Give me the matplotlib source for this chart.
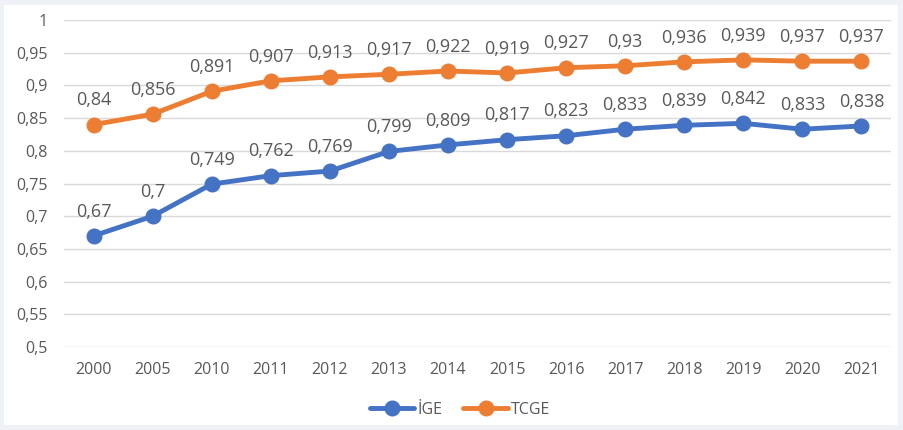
import matplotlib
matplotlib.use("Agg")
import matplotlib.pyplot as plt
from matplotlib.patches import Rectangle

years = ["2000", "2005", "2010", "2011", "2012", "2013", "2014", "2015",
         "2016", "2017", "2018", "2019", "2020", "2021"]
ige = [0.67, 0.7, 0.749, 0.762, 0.769, 0.799, 0.809, 0.817, 0.823, 0.833, 0.839, 0.842, 0.833, 0.838]
tcge = [0.84, 0.856, 0.891, 0.907, 0.913, 0.917, 0.922, 0.919, 0.927, 0.93, 0.936, 0.939, 0.937, 0.937]
series_names = ["İGE", "TCGE"]
colors = ["#4472C4", "#ED7D31"]
yticks = [0.5, 0.55, 0.6, 0.65, 0.7, 0.75, 0.8, 0.85, 0.9, 0.95, 1.0]

plt.rcParams['font.family'] = ['Open Sans', 'DejaVu Sans']
W, H = 904, 430
fig = plt.figure(figsize=(W / 100, H / 100), dpi=100)
fig.patch.set_facecolor("#EEF2F7")
fig.patches.append(Rectangle((4 / W, 5 / H), (898 - 4) / W, (425 - 5) / H,
                             transform=fig.transFigure, facecolor="white",
                             edgecolor="none", zorder=-10))

left, right = 64, 891
top, bottom = 20, 347
ax = fig.add_axes([left / W, 1 - bottom / H, (right - left) / W, (bottom - top) / H])
ax.set_facecolor("none")

x = list(range(len(years)))
for vals, name, c in zip([ige, tcge], series_names, colors):
    ax.plot(x, vals, color=c, lw=3.5, marker="o", ms=10.5, label=name, zorder=3,
            solid_capstyle="round")
    for xi, v in zip(x, vals):
        lab = ("%g" % v).replace(".", ",")
        ax.annotate(lab, (xi, v), xytext=(0, 11), textcoords="offset points",
                    ha="center", va="bottom", fontsize=13, color="#595959")

ax.set_xlim(-0.5, len(years) - 0.5)
ax.set_ylim(0.5, 1.0)
ax.set_yticks(yticks)
ax.set_yticklabels([("%g" % t).replace(".", ",") for t in yticks])
ax.set_xticks(x)
ax.set_xticklabels(years)
ax.tick_params(axis="both", length=0, labelsize=11.5, colors="#595959")
ax.tick_params(axis="y", pad=12)
ax.tick_params(axis="x", pad=11)
ax.grid(axis="y", color="#D9D9D9", lw=1)
ax.set_axisbelow(True)
for s in ax.spines.values():
    s.set_visible(False)

leg = fig.legend(loc="center", bbox_to_anchor=(460 / W, 1 - 410 / H), ncol=2,
                 frameon=False, fontsize=11.5, handlelength=2.8, columnspacing=1.3,
                 handletextpad=0.2, markerscale=1.0)
for t in leg.get_texts():
    t.set_color("#595959")

fig.savefig("out.png", dpi=100, facecolor=fig.get_facecolor())
